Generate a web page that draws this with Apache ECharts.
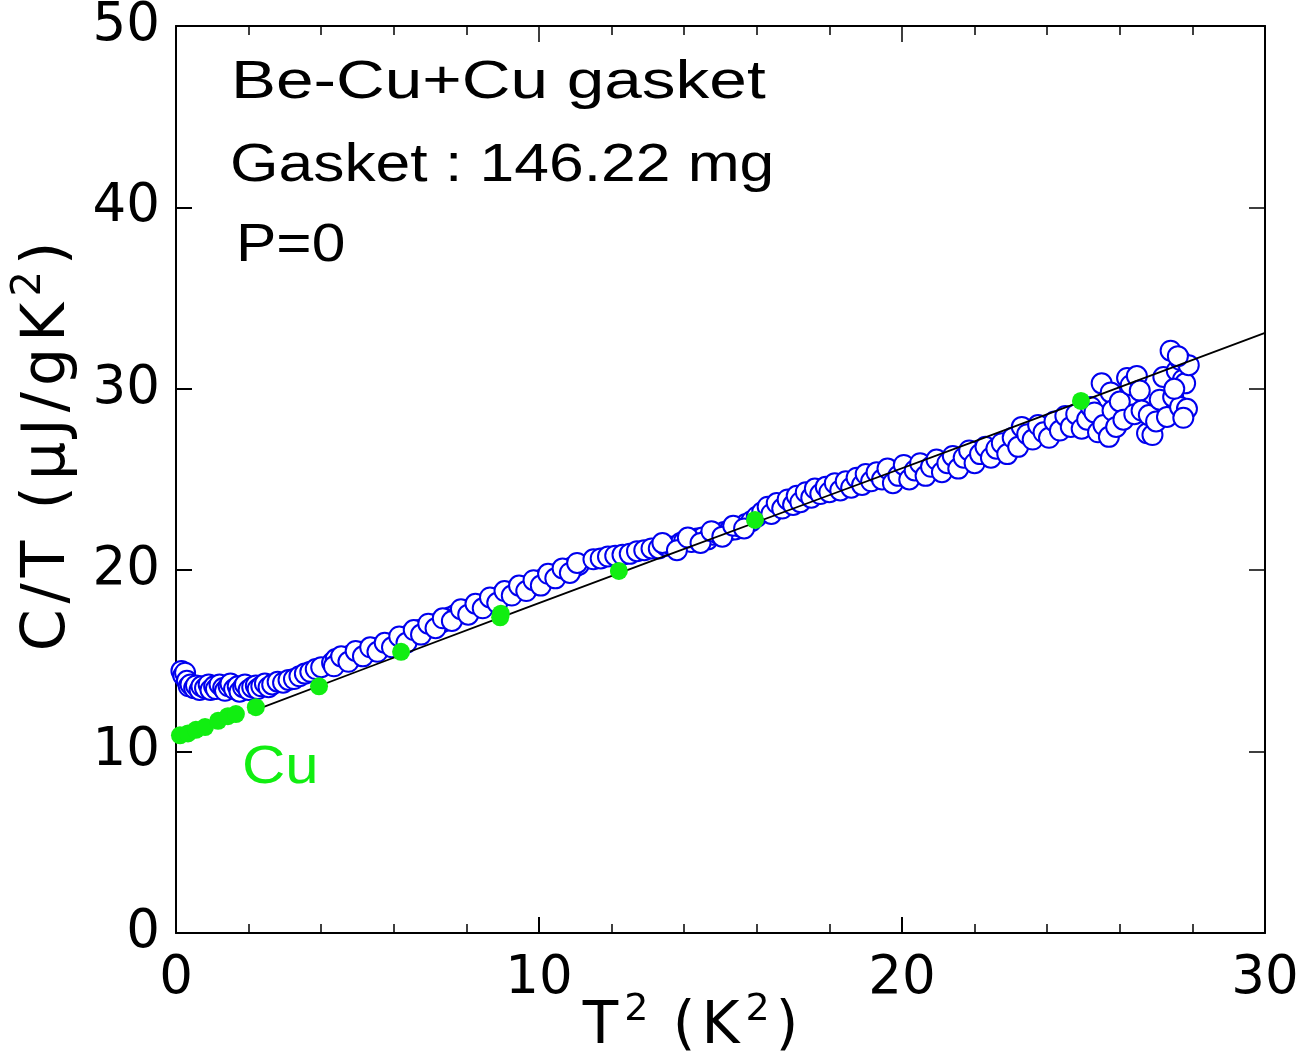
<!DOCTYPE html>
<html>
<head>
<meta charset="utf-8">
<script src="https://cdn.jsdelivr.net/npm/echarts@6/dist/echarts.min.js"></script>
<style>html,body{margin:0;padding:0;background:#fff}#c{width:1301px;height:1061px}</style>
</head>
<body>
<div id="c"></div>
<script>
// Be-Cu + Cu gasket, C/T vs T^2 (blue open circles)
const beCuData = [
[0.15,14.45],[0.2,14.2],[0.25,14.35],[0.3,13.9],[0.35,13.6],[0.4,13.7],[0.5,13.5],[0.55,13.65],[0.65,13.4],[0.7,13.6],[0.8,13.5],[0.9,13.7],[0.95,13.4],[1.05,13.6],[1.1,13.45],[1.2,13.7],[1.3,13.5],[1.35,13.35],[1.45,13.6],[1.5,13.75],[1.6,13.45],[1.7,13.6],[1.75,13.3],[1.85,13.55],[1.9,13.7],[2.0,13.4],[2.1,13.55],[2.2,13.65],[2.25,13.45],
[2.35,13.6],[2.45,13.75],[2.55,13.55],[2.65,13.7],[2.8,13.85],[2.95,13.8],[3.1,13.95],[3.25,14.0],[3.4,14.15],[3.55,14.3],[3.7,14.4],[3.85,14.55],[4.0,14.65],
[4.3,14.9],[4.4,15.1],[4.5,15.0],[4.6,15.2],[4.7,15.1],[4.8,15.3],[4.9,15.4],[5.0,15.3],[5.1,15.5],[5.2,15.45],[5.3,15.6],[5.4,15.55],[5.5,15.7],[5.6,15.65],[5.7,15.8],[5.8,15.85],[5.9,15.95],[6.0,16.0],
[6.1,16.1],[6.2,16.25],[6.3,16.2],[6.4,16.4],[6.5,16.5],[6.6,16.6],[6.7,16.7],[6.8,16.65],[6.9,16.85],[7.0,16.9],[7.1,17.0],[7.2,17.05],[7.3,17.1],[7.4,17.2],[7.55,17.4],[7.7,17.55],[7.8,17.6],[7.9,17.7],[8.0,17.75],[8.1,17.85],[8.2,17.9],[8.3,18.0],[8.4,18.05],[8.5,18.15],[8.6,18.2],[8.7,18.3],[8.8,18.4],
[8.95,18.6],[9.1,18.7],[9.2,18.75],[9.3,18.85],[9.4,18.9],[9.5,19.0],[9.6,19.05],[9.7,19.15],[9.8,19.2],[9.9,19.3],[10.0,19.35],[10.1,19.5],[10.2,19.6],[10.3,19.65],[10.4,19.75],[10.5,19.8],[10.6,19.9],[10.7,19.95],[10.8,20.05],[10.9,20.15],[11.0,20.2],[11.1,20.3],
[4.35,14.7],[4.55,15.25],[4.75,14.95],[4.95,15.55],[5.15,15.25],[5.35,15.75],[5.55,15.5],[5.75,16.0],[5.95,15.75],[6.15,16.35],[6.35,16.0],[6.55,16.7],[6.75,16.45],[6.95,17.05],[7.15,16.8],[7.35,17.35],[7.6,17.2],[7.85,17.85],[8.05,17.55],[8.25,18.15],[8.45,17.9],[8.65,18.5],[8.85,18.2],[9.05,18.85],[9.25,18.6],[9.45,19.15],[9.65,18.85],[9.85,19.45],[10.05,19.15],[10.25,19.8],[10.45,19.55],[10.65,20.1],[10.85,19.85],[11.05,20.4],
[11.5,20.6],[11.7,20.65],[11.9,20.75],[12.1,20.8],[12.3,20.85],[12.5,20.9],[12.7,21.05],[12.9,21.1],[13.1,21.2],
[13.3,21.2],[13.5,21.35],[13.7,21.3],[13.9,21.5],[14.0,21.6],[14.2,21.55],[14.35,21.75],[14.5,21.8],[14.65,21.7],[14.8,21.95],[14.95,22.0],[15.1,22.1],[15.25,22.2],[15.4,22.25],[15.55,22.4],[15.7,22.55],[15.85,22.7],[16.0,22.95],
[13.4,21.5],[13.8,21.1],[14.1,21.8],[14.45,21.5],[14.75,22.15],[15.05,21.85],[15.35,22.45],[15.65,22.3],
[16.15,23.2],[16.3,23.5],[16.4,23.1],[16.55,23.7],[16.7,23.4],[16.85,23.9],[17.0,23.6],[17.1,24.1],[17.2,23.75],[17.35,24.3],[17.5,24.0],[17.6,24.5],[17.75,24.2],[17.9,24.6],[18.0,24.3],[18.15,24.8],[18.3,24.4],[18.45,24.9],[18.6,24.55],[18.75,25.1],[18.9,24.7],[19.0,25.3],[19.15,24.9],
[19.3,25.4],[19.45,25.0],[19.6,25.6],[19.75,24.8],[19.9,25.2],[20.05,25.8],[20.2,25.0],[20.35,25.5],[20.5,25.9],[20.65,25.2],[20.8,25.7],[20.95,26.1],[21.1,25.4],[21.25,25.9],[21.4,26.3],[21.55,25.6],[21.7,26.2],[21.85,26.6],[22.0,25.9],[22.15,26.4],
[22.3,26.8],[22.45,26.2],[22.6,26.7],[22.75,27.0],[22.9,26.4],[23.05,27.3],[23.2,26.8],[23.3,27.9],[23.45,27.5],[23.6,27.2],[23.75,28.0],[23.9,27.6],[24.05,27.3],[24.2,28.2],[24.35,27.7],[24.5,28.5],[24.65,27.9],[24.8,28.6],[24.95,27.8],
[25.1,28.3],[25.2,29.0],[25.3,28.7],[25.4,27.6],[25.5,30.3],[25.55,28.0],[25.7,27.35],[25.75,29.8],[25.8,28.8],[25.9,27.9],[26.0,29.3],[26.1,28.3],[26.2,30.6],[26.3,30.2],[26.4,28.6],[26.47,30.7],[26.55,29.9],[26.6,28.8],[26.75,27.55],[26.8,28.55],[26.9,27.45],[27.0,28.2],[27.1,29.4],[27.2,30.65],[27.3,28.45],[27.4,32.1],[27.47,29.55],[27.57,31.0],[27.66,31.6],[27.66,29.0],[27.74,30.5],[27.8,30.3],[27.85,28.9],[27.9,31.3],[27.75,28.4],[27.5,30.0],[27.6,31.8]
];
// Cu reference (green filled circles)
const cuData = [
[0.11,10.9],[0.33,11.0],[0.55,11.2],[0.8,11.35],[1.16,11.7],[1.43,11.95],[1.65,12.07],[2.2,12.45],[3.94,13.6],[6.2,15.5],[8.93,17.4],[8.95,17.6],[12.2,19.96],[15.95,22.77],[24.93,29.33]
];
// fitted curve (black line)
const fitLine = [[2.0,12.15],[5.5,14.8],[13.5,20.8],[22.0,27.1],[30.0,33.08]];

const xTicks = {min:0, max:30, interval:10};
const yTicks = {min:0, max:50, interval:10};

const annotations = [
  {text:'Be-Cu+Cu gasket', x:231, y:83, color:'#000', scale:1.25},
  {text:'Gasket : 146.22 mg', x:230, y:166, color:'#000', scale:1.155},
  {text:'P=0', x:236, y:246, color:'#000', scale:1.12},
  {text:'Cu', x:242, y:768, color:'#11ee11', scale:1.11}
];

const chart = echarts.init(document.getElementById('c'));
const axisCommon = {
  axisLine:{show:true, onZero:false, lineStyle:{color:'#000', width:2}},
  splitLine:{show:false}
};
const tickFont = 'DejaVu Sans';
const titleRich = {
  a:{fontSize:58, fontFamily:tickFont, color:'#000', padding:[0,3,0,3], verticalAlign:'bottom'},
  s:{fontSize:38, fontFamily:tickFont, color:'#000', verticalAlign:'bottom', padding:[0,3,28,3]}
};
chart.setOption({
  animation:false,
  backgroundColor:'#fff',
  grid:{left:176, right:36, top:26, bottom:128, outerBoundsMode:'none', containLabel:false},
  xAxis:[
    Object.assign({type:'value', position:'bottom', min:xTicks.min, max:xTicks.max, interval:xTicks.interval,
      axisTick:{inside:true, length:16, lineStyle:{color:'#000', width:2}},
      minorTick:{show:true, splitNumber:5, length:9, lineStyle:{color:'#000', width:1.5}},
      axisLabel:{fontSize:53, color:'#000', fontFamily:tickFont, margin:20},
      name:'{a|T}{s|2}{a| (}{a|K}{s|2}{a|)}', nameLocation:'middle', nameGap:58, nameMoveOverlap:false,
      nameTextStyle:{padding:[0,60,0,0], rich:titleRich}
    }, axisCommon),
    Object.assign({type:'value', position:'top', min:xTicks.min, max:xTicks.max, interval:xTicks.interval,
      axisTick:{inside:true, length:16, lineStyle:{color:'#000', width:1.5}},
      minorTick:{show:true, splitNumber:5, length:9, lineStyle:{color:'#000', width:1.5}},
      axisLabel:{show:false}}, axisCommon)
  ],
  yAxis:[
    Object.assign({type:'value', position:'left', min:yTicks.min, max:yTicks.max, interval:yTicks.interval,
      axisTick:{inside:true, length:16, lineStyle:{color:'#000', width:2}},
      axisLabel:{fontSize:53, color:'#000', fontFamily:tickFont, margin:16},
      name:'{a|C}{a|/}{a|T}{a| }{a|(}{a|μ}{a|J}{a|/}{a|g}{a|K}{s|2}{a|)}', nameLocation:'middle', nameGap:98, nameRotate:90,
      nameTextStyle:{padding:[0,0,0,66], rich:{
        a:{fontSize:60, fontFamily:tickFont, color:'#000', padding:[0,3,0,3], verticalAlign:'bottom'},
        s:{fontSize:40, fontFamily:tickFont, color:'#000', verticalAlign:'bottom', padding:[0,3,28,3]}}}
    }, axisCommon),
    Object.assign({type:'value', position:'right', min:yTicks.min, max:yTicks.max, interval:yTicks.interval,
      axisTick:{inside:true, length:16, lineStyle:{color:'#000', width:1.5}},
      axisLabel:{show:false}}, axisCommon)
  ],
  series:[
    {type:'scatter', data:beCuData, symbol:'circle', symbolSize:20, z:2,
      itemStyle:{color:'#fff', borderColor:'#0000ee', borderWidth:2, opacity:1}},
    {type:'line', data:fitLine, showSymbol:false, smooth:true, z:3,
      lineStyle:{color:'#000', width:1.8}},
    {type:'scatter', data:cuData, symbol:'circle', symbolSize:18, z:4,
      itemStyle:{color:'#11ee11', opacity:1}}
  ],
  graphic: annotations.map(a => ({
    type:'text', x:a.x, y:a.y, scaleX:a.scale, z:10,
    style:{text:a.text, x:0, y:0, font:'54px "Liberation Sans"', fill:a.color, textVerticalAlign:'middle'}
  }))
});
</script>
</body>
</html>
